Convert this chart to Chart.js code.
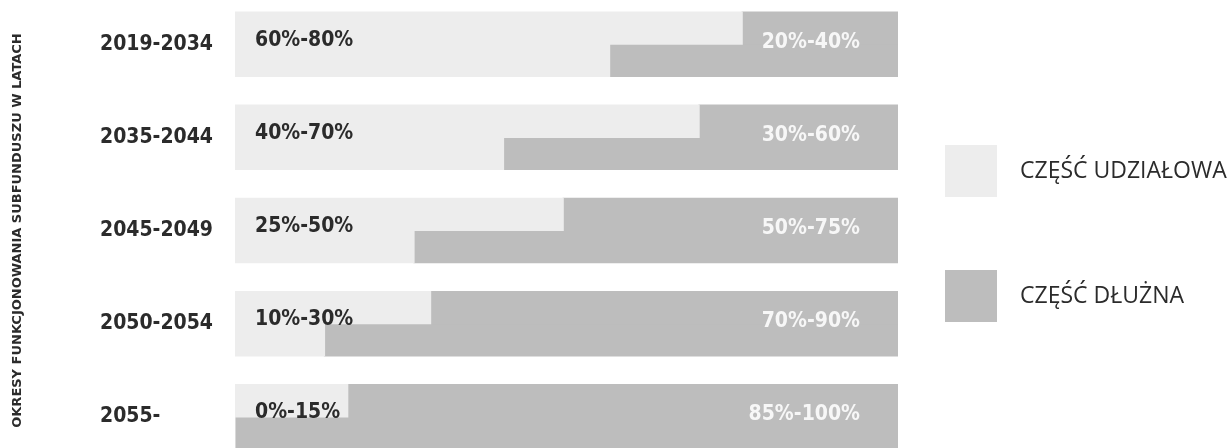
<!DOCTYPE html>
<html>
<head>
<meta charset="utf-8">
<script src="https://cdn.jsdelivr.net/npm/chart.js@4.4.1/dist/chart.umd.min.js"></script>
<style>
  html, body { margin: 0; padding: 0; background: #ffffff; overflow: hidden; }
  #wrap { position: relative; width: 1228px; height: 448px; overflow: hidden; }
  #chart { position: absolute; left: 0; top: -15px; }
</style>
</head>
<body>
<div id="wrap"><canvas id="chart" width="1228" height="491"></canvas></div>
<script>
/* ------------------
    Data
-------------------*/
var okresy = ['2019-2034', '2035-2044', '2045-2049', '2050-2054', '2055-'];

// gorna polowka paska (maks. udzial akcji) i dolna (min. udzial akcji)
var udzialGora = [76.5, 70, 49.5, 29.5, 17];
var dlugGora   = [23.5, 30, 50.5, 70.5, 83];
var udzialDol  = [56.5, 40.5, 27, 13.5, 0];
var dlugDol    = [43.5, 59.5, 73, 86.5, 100];

var opisUdzial = ['60%-80%', '40%-70%', '25%-50%', '10%-30%', '0%-15%'];
var opisDlug   = ['20%-40%', '30%-60%', '50%-75%', '70%-90%', '85%-100%'];

var JASNY = '#ededed';
var CIEMNY = '#bdbdbd';
var TEKST = '#2b2b2b';
var FONT_BOLD = "'DejaVu Sans Condensed', 'DejaVu Sans', sans-serif";
var PRZESUNIECIE = 15;   // canvas is moved up by this many px

/* ------------------
    Labels on the bars
-------------------*/
var opisyPlugin = {
  id: 'opisy',
  afterDatasetsDraw: function (chart) {
    var ctx = chart.ctx;
    var area = chart.chartArea;
    var meta = chart.getDatasetMeta(0);
    ctx.save();
    ctx.font = 'bold 21px ' + FONT_BOLD;
    ctx.textBaseline = 'middle';
    meta.data.forEach(function (el, i) {
      ctx.fillStyle = TEKST;
      ctx.textAlign = 'left';
      ctx.fillText(opisUdzial[i], area.left + 20, el.y + 12);
      ctx.fillStyle = '#f7f7f7';
      ctx.textAlign = 'right';
      ctx.fillText(opisDlug[i], area.right - 38, el.y + 14);
    });
    ctx.restore();
  }
};

/* ------------------
    Legend on the right
-------------------*/
var legendaPlugin = {
  id: 'legenda',
  afterDraw: function (chart) {
    var ctx = chart.ctx;
    var ds = chart.data.datasets;
    var y0 = 171 + PRZESUNIECIE;
    ctx.save();
    ctx.font = "23px 'Open Sans', 'Noto Sans', sans-serif";
    ctx.textBaseline = 'middle';
    ctx.textAlign = 'left';
    [0, 1].forEach(function (k) {
      var cy = y0 + k * 125;
      ctx.fillStyle = ds[k].backgroundColor;
      ctx.fillRect(945, cy - 26, 52, 52);
      ctx.fillStyle = TEKST;
      ctx.fillText(ds[k].label, 1020, cy);
    });
    ctx.restore();
  }
};

var chart = new Chart(document.getElementById('chart'), {
  type: 'bar',
  data: {
    labels: okresy,
    datasets: [
      { label: 'CZĘŚĆ UDZIAŁOWA', data: udzialGora, backgroundColor: JASNY, stack: 'gora' },
      { label: 'CZĘŚĆ DŁUŻNA', data: dlugGora, backgroundColor: CIEMNY, stack: 'gora' },
      { label: 'CZĘŚĆ UDZIAŁOWA', data: udzialDol, backgroundColor: JASNY, stack: 'dol' },
      { label: 'CZĘŚĆ DŁUŻNA', data: dlugDol, backgroundColor: CIEMNY, stack: 'dol' }
    ]
  },
  options: {
    indexAxis: 'y',
    responsive: false,
    animation: false,
    categoryPercentage: 0.69,
    barPercentage: 1.0,
    borderWidth: 0,
    inflateAmount: 0.6,
    layout: { padding: { left: 0, right: 330, top: 0, bottom: 0 } },
    plugins: {
      legend: { display: false },
      tooltip: { enabled: false }
    },
    scales: {
      x: {
        stacked: true,
        min: 0,
        max: 100,
        display: false
      },
      y: {
        stacked: true,
        weight: 0,
        grid: { display: false, drawTicks: false },
        border: { display: false },
        ticks: {
          crossAlign: 'far',
          padding: 0,
          color: TEKST,
          font: { family: FONT_BOLD, size: 21, weight: 'bold' }
        },
        afterFit: function (scale) { scale.width = 135; }
      },
      y2: {
        type: 'category',
        position: 'left',
        weight: 1,
        grid: { display: false, drawTicks: false },
        border: { display: false },
        ticks: { display: false },
        title: {
          display: true,
          text: 'OKRESY FUNKCJONOWANIA SUBFUNDUSZU W LATACH',
          color: TEKST,
          padding: { top: 10, bottom: 0 },
          font: { family: "'DejaVu Sans', sans-serif", size: 13, weight: 'bold', lineHeight: 1.2 }
        },
        afterFit: function (scale) { scale.width = 100; }
      }
    }
  },
  plugins: [opisyPlugin, legendaPlugin]
});
</script>
</body>
</html>
